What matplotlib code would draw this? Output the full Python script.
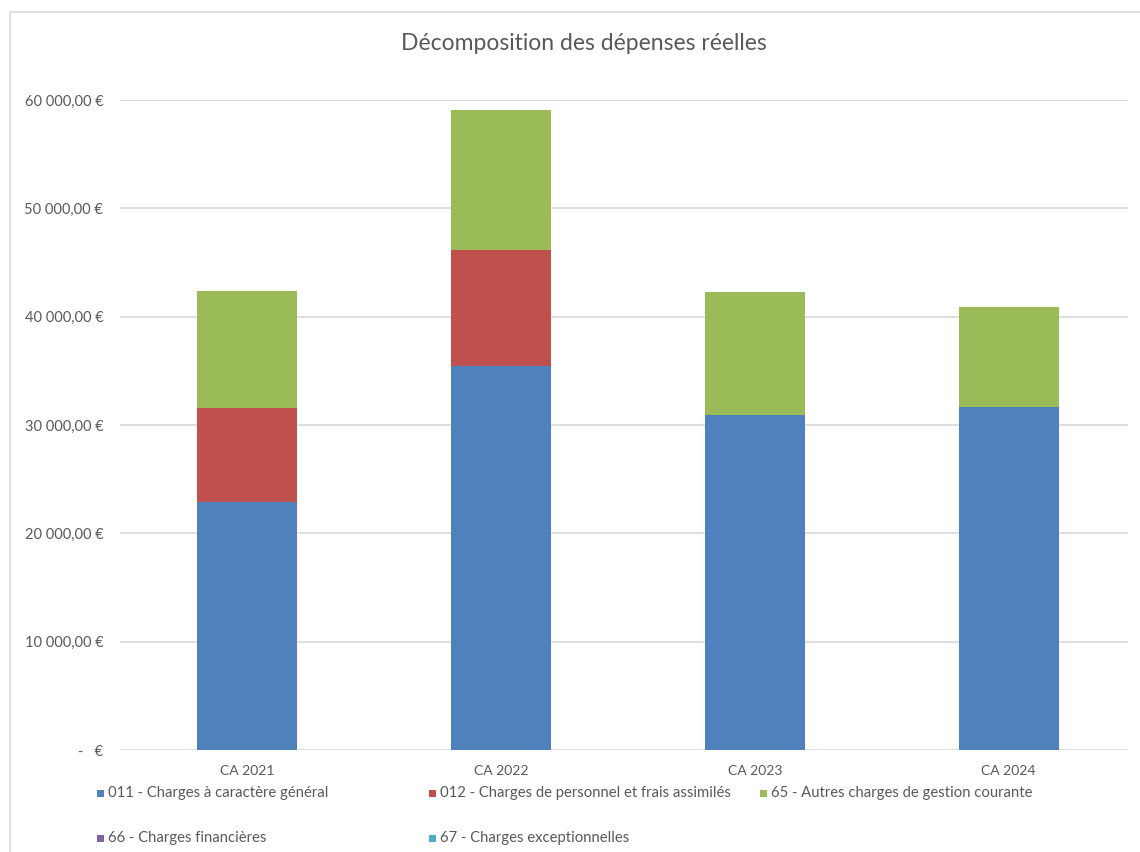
import matplotlib
matplotlib.use("Agg")
import matplotlib.pyplot as plt
from matplotlib.patches import Rectangle
from matplotlib.ticker import FuncFormatter

categories = ["CA 2021", "CA 2022", "CA 2023", "CA 2024"]
series_names = [
    "011 - Charges à caractère général",
    "012 - Charges de personnel et frais assimilés",
    "65 - Autres charges de gestion courante",
    "66 - Charges financières",
    "67 - Charges exceptionnelles",
]
charges_011 = [22900, 35450, 30920, 31660]
charges_012 = [8670, 10700, 0, 0]
charges_65 = [10800, 12930, 11360, 9230]
charges_66 = [0, 0, 0, 0]
charges_67 = [0, 0, 0, 0]
y_ticks = [0, 10000, 20000, 30000, 40000, 50000, 60000]

colors = ["#4F81BD", "#C0504D", "#9BBB59", "#8064A2", "#4BACC6"]
FONT = "Lato"
plt.rcParams["font.family"] = [FONT, "DejaVu Sans"]

W, H = 1140, 852
fig = plt.figure(figsize=(W / 100, H / 100), dpi=100)
fig.patch.set_facecolor("white")

# chart border
fig.patches.append(Rectangle((10 / W, -0.1), 2, 1 - 12 / H + 0.1, transform=fig.transFigure,
                             fill=False, edgecolor="#D9D9D9", linewidth=1.2))

ax = fig.add_axes([120 / W, 1 - 750 / H, (1128 - 120) / W, (750 - 100) / H])
x = list(range(len(categories)))
bottom = [0] * len(categories)
all_series = [charges_011, charges_012, charges_65, charges_66, charges_67]
for vals, col, name in zip(all_series, colors, series_names):
    ax.bar(x, vals, width=0.395, bottom=bottom, color=col, label=name, zorder=3)
    bottom = [b + v for b, v in zip(bottom, vals)]

ax.set_xlim(-0.5, 3.47)
ax.set_ylim(0, 60000)
ax.set_yticks(y_ticks)


def fmt(v, pos):
    if v == 0:
        return "-   €"
    s = f"{v:,.2f}".replace(",", " ").replace(".", ",")
    return s + " €"


ax.yaxis.set_major_formatter(FuncFormatter(fmt))
ax.set_xticks(x)
ax.set_xticklabels(categories)
ax.grid(axis="y", color="#D9D9D9", linewidth=1.2, zorder=0)
for s in ["top", "right", "left", "bottom"]:
    ax.spines[s].set_visible(False)
ax.tick_params(axis="both", length=0, colors="#595959", labelsize=10.5)
ax.tick_params(axis="x", labelsize=10, pad=11)
ax.tick_params(axis="y", pad=12)

fig.text(584 / W, 1 - 43 / H, "Décomposition des dépenses réelles", ha="center", va="center",
         fontsize=16.5, color="#595959")

# legend (Excel style, uniform columns)
leg_pos = [(97, 793), (429, 793), (760, 793), (97, 838), (429, 838)]
for (lx, ly), col, name in zip(leg_pos, colors, series_names):
    fig.patches.append(Rectangle((lx / W, 1 - (ly + 3.5) / H), 7 / W, 7 / H,
                                 transform=fig.transFigure, facecolor=col, edgecolor="none"))
    fig.text((lx + 11) / W, 1 - ly / H, name, ha="left", va="center", fontsize=10.7, color="#595959")

fig.savefig("out.png", dpi=100, facecolor="white")
